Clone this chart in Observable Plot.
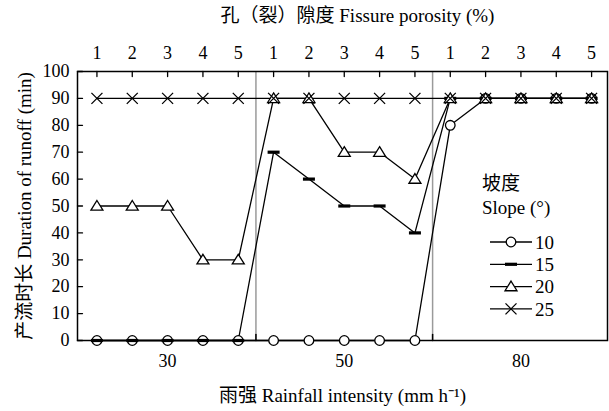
<!DOCTYPE html>
<html><head><meta charset="utf-8">
<script src="https://cdn.jsdelivr.net/npm/d3@7"></script>
<script src="https://cdn.jsdelivr.net/npm/@observablehq/plot@0.6"></script>
<style>body{margin:0;background:#fff}</style>
</head><body><div id="chart"></div>
<script>
// ---- data ----
const porosity = [1, 2, 3, 4, 5];            // fissure porosity (%) – top axis
const rainfall = [30, 50, 80];               // rainfall intensity (mm h-1) – bottom axis
const slopes = [10, 15, 20, 25];             // slope (°)
const dur10 = [0, 0, 0, 0, 0,   0, 0, 0, 0, 0,    80, 90, 90, 90, 90];
const dur15 = [0, 0, 0, 0, 0,   70, 60, 50, 50, 40, 90, 90, 90, 90, 90];
const dur20 = [50, 50, 50, 30, 30, 90, 90, 70, 70, 60, 90, 90, 90, 90, 90];
const dur25 = [90, 90, 90, 90, 90, 90, 90, 90, 90, 90, 90, 90, 90, 90, 90];
const yTicks = [0, 10, 20, 30, 40, 50, 60, 70, 80, 90, 100];

const series = [dur10, dur15, dur20, dur25];
const nP = porosity.length;
const idx = d3.range(rainfall.length * nP);
const rows = [];
series.forEach((vals, s) => vals.forEach((v, i) => rows.push({i, slope: slopes[s], dur: v})));
const seps = d3.range(1, rainfall.length).map(g => g * nP - 0.5);
const centers = rainfall.map((r, g) => g * nP + (nP - 1) / 2);

// ---- symbols ----
const symCircle = {draw(c) { c.moveTo(4.8, 0); c.arc(0, 0, 4.8, 0, 2 * Math.PI); }};
const symDash = {draw(c) { c.moveTo(-6, -1.6); c.lineTo(6, -1.6); c.lineTo(6, 1.6); c.lineTo(-6, 1.6); c.closePath(); }};
const symTri = {draw(c) { const h = 5.5; c.moveTo(0, -h); c.lineTo(6, h * 0.75); c.lineTo(-6, h * 0.75); c.closePath(); }};
const symX = {draw(c) { const r = 5.5; c.moveTo(-r, -r); c.lineTo(r, r); c.moveTo(-r, r); c.lineTo(r, -r); }};
const symStyle = {
  10: {symbol: symCircle, fill: "white", stroke: "black"},
  15: {symbol: symDash, fill: "black", stroke: "none"},
  20: {symbol: symTri, fill: "white", stroke: "black"},
  25: {symbol: symX, fill: "none", stroke: "black"}
};
const tickShape = {draw(c, l) { c.moveTo(0, 0); c.lineTo(0, -l); }};

const font = "'Liberation Serif', 'Noto Sans CJK SC', serif";
const marks = [
  Plot.ruleX(seps, {x: d => d, stroke: "#9a9a9a", strokeWidth: 1.5}),
  Plot.vector(seps, {x: d => d, frameAnchor: "bottom", length: 6, rotate: 0, anchor: "start", shape: tickShape, strokeWidth: 1.5}),
  Plot.vector(idx, {x: d => d, frameAnchor: "top", length: 5, rotate: 180, anchor: "start", shape: tickShape, strokeWidth: 1.3}),
  Plot.vector(yTicks, {y: d => d, frameAnchor: "left", length: 5, rotate: 90, anchor: "start", shape: tickShape, strokeWidth: 1.3}),
  Plot.frame({stroke: "black", strokeWidth: 1.5}),
  Plot.line(rows, {x: "i", y: "dur", z: "slope", stroke: "black", strokeWidth: 1.3}),
  ...slopes.map(s => Plot.dot(rows.filter(r => r.slope === s), {x: "i", y: "dur", r: 5, strokeWidth: 1.3, ...symStyle[s]})),
  Plot.axisY({ticks: yTicks, tickSize: 0, tickPadding: 8, label: null, fontSize: 18}),
  Plot.axisX({anchor: "top", ticks: idx, tickFormat: i => porosity[i % nP], tickSize: 0, tickPadding: 13, label: null, fontSize: 18}),
  Plot.axisX({anchor: "bottom", ticks: centers, tickFormat: c => rainfall[centers.indexOf(c)], tickSize: 0, tickPadding: 14, label: null, fontSize: 18}),
  Plot.text(["孔（裂）隙度 Fissure porosity (%)"], {frameAnchor: "top", dx: 15, dy: -56, fontSize: 19, textAnchor: "middle", lineAnchor: "middle", text: d => d}),
  Plot.text(["雨强 Rainfall intensity (mm h⁻¹)"], {frameAnchor: "bottom", dx: 0, dy: 55, fontSize: 19, textAnchor: "middle", lineAnchor: "middle", text: d => d}),
  Plot.text(["产流时长 Duration of runoff (min)"], {frameAnchor: "left", dx: -53, dy: 0, rotate: -90, fontSize: 19, textAnchor: "middle", lineAnchor: "middle", text: d => d})
];

const chart = Plot.plot({
  width: 609, height: 411,
  marginLeft: 77, marginRight: 2, marginTop: 71, marginBottom: 71,
  style: {fontFamily: font, fontSize: "18px", color: "black", background: "white"},
  x: {type: "linear", domain: [-0.55, 14.45], axis: null},
  y: {domain: [0, 100], axis: null},
  marks
});
document.getElementById("chart").append(chart);

// ---- legend ----
const svg = d3.select(chart);
const lg = svg.append("g").attr("font-family", font).attr("fill", "black").attr("text-anchor", "start");
lg.append("text").attr("x", 482).attr("y", 190).attr("font-size", 19).text("坡度");
lg.append("text").attr("x", 482).attr("y", 214).attr("font-size", 19).text("Slope (°)");
slopes.forEach((s, k) => {
  const y = 242 + k * 22.3;
  lg.append("line").attr("x1", 490).attr("x2", 532).attr("y1", y).attr("y2", y).attr("stroke", "black").attr("stroke-width", 1.3);
  const st = symStyle[s];
  lg.append("path").attr("transform", `translate(511,${y})`)
    .attr("d", d3.symbol(st.symbol)())
    .attr("fill", st.fill).attr("stroke", st.stroke).attr("stroke-width", 1.3);
  lg.append("text").attr("x", 535).attr("y", y).attr("dy", "0.35em").attr("font-size", 19).text(s);
});
</script></body></html>
